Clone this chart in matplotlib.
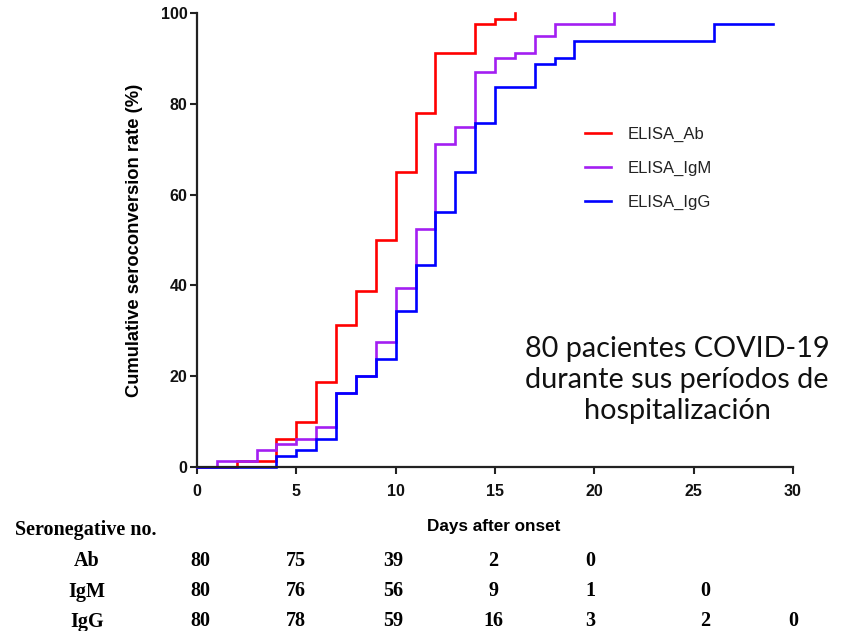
import matplotlib
matplotlib.use("Agg")
import matplotlib.pyplot as plt
import matplotlib.transforms as mtransforms

# ---- data ----
ab_days = [0, 2, 4, 5, 6, 7, 8, 9, 10, 11, 12, 14, 15, 16]
ab_pct = [0, 1.25, 6.25, 10, 18.75, 31.25, 38.75, 50, 65, 78, 91.25, 97.5, 98.75, 100]

igm_days = [0, 1, 3, 4, 5, 6, 7, 8, 9, 10, 11, 12, 13, 14, 15, 16, 17, 18, 21]
igm_pct = [0, 1.25, 3.75, 5, 6.25, 8.75, 16.25, 20, 27.5, 39.4, 52.5, 71.25, 75, 87, 90, 91.25, 95, 97.5, 100]

igg_days = [0, 4, 5, 6, 7, 8, 9, 10, 11, 12, 13, 14, 15, 17, 18, 19, 26, 29]
igg_pct = [0, 2.5, 3.75, 6.25, 16.25, 20, 23.75, 34.4, 44.6, 56.25, 65, 75.75, 83.75, 88.75, 90, 93.75, 97.5, 97.5]

series_labels = ["ELISA_Ab", "ELISA_IgM", "ELISA_IgG"]
colors = ["#FF0000", "#A31EF2", "#0000FF"]

x_ticks = [0, 5, 10, 15, 20, 25, 30]
y_ticks = [0, 20, 40, 60, 80, 100]

table_title = "Seronegative no."
table_rows = ["Ab", "IgM", "IgG"]
ab_counts = ["80", "75", "39", "2", "0"]
igm_counts = ["80", "76", "56", "9", "1", "0"]
igg_counts = ["80", "78", "59", "16", "3", "2", "0"]
table_cols_x = [0.15, 5, 9.9, 14.9, 19.8, 25.6, 30]

note = "80 pacientes COVID-19\ndurante sus períodos de\nhospitalización"

# ---- figure ----
W, H = 848, 631
fig = plt.figure(figsize=(W / 100, H / 100), dpi=100)
ax = fig.add_axes([197 / W, 1 - 467 / H, (793 - 197) / W, (467 - 13) / H])

sans = "Liberation Sans"
serif = "Liberation Serif"

for d, p, c, lab in zip([ab_days, igm_days, igg_days], [ab_pct, igm_pct, igg_pct], colors, series_labels):
    ax.step(d, p, where="post", color=c, lw=1.9, label=lab, clip_on=False, solid_joinstyle="miter")

ax.set_xlim(0, 30)
ax.set_ylim(0, 100)
ax.set_xticks(x_ticks)
ax.set_yticks(y_ticks)
for s in ["top", "right"]:
    ax.spines[s].set_visible(False)
for s in ["left", "bottom"]:
    ax.spines[s].set_linewidth(1.6)
    ax.spines[s].set_color("#222222")
ax.tick_params(axis="both", direction="out", length=5, width=1.5, color="#222222")
ax.tick_params(axis="x", pad=7)
ax.tick_params(axis="y", pad=2)
for t in ax.get_xticklabels() + ax.get_yticklabels():
    t.set_fontfamily(sans)
    t.set_fontweight("bold")
    t.set_fontsize(11.5)
    t.set_color("#111111")

ax.set_xlabel("Days after onset", fontfamily=sans, fontweight="bold", fontsize=12.3)
ax.xaxis.set_label_coords((494 - 197) / 596, (467 - 518.5) / 454)
ax.set_ylabel("Cumulative seroconversion rate (%)", fontfamily=sans, fontweight="bold", fontsize=13.2)
ax.yaxis.set_label_coords((143 - 197) / 596, 0.5)

leg = ax.legend(loc="upper left", bbox_to_anchor=(578 / W, 1 - 120 / H), bbox_transform=fig.transFigure,
                frameon=False, prop={"family": sans, "size": 12}, handlelength=1.6, handletextpad=0.95,
                labelspacing=1.13, borderaxespad=0)
for t in leg.get_texts():
    t.set_color("#222222")

fig.text(677 / W, 1 - 380 / H, note, ha="center", va="center", fontfamily="Lato", fontsize=20.8,
         linespacing=1.23, color="#111111")

# ---- table ----
trans = mtransforms.blended_transform_factory(ax.transData, fig.transFigure)
fig.text(15 / W, 1 - 530 / H, table_title, ha="left", va="center", fontfamily=serif, fontweight="bold", fontsize=14.5)
row_y = [561.5, 591.5, 621.5]
for lab, counts, yy in zip(table_rows, [ab_counts, igm_counts, igg_counts], row_y):
    fig.text(87 / W, 1 - yy / H, lab, ha="center", va="center", fontfamily=serif, fontweight="bold", fontsize=14.5)
    for cx, val in zip(table_cols_x, counts):
        ax.text(cx, 1 - yy / H, val, transform=trans, ha="center", va="center", fontfamily=serif,
                fontweight="bold", fontsize=14.5, clip_on=False)

fig.savefig("out.png", dpi=100)
